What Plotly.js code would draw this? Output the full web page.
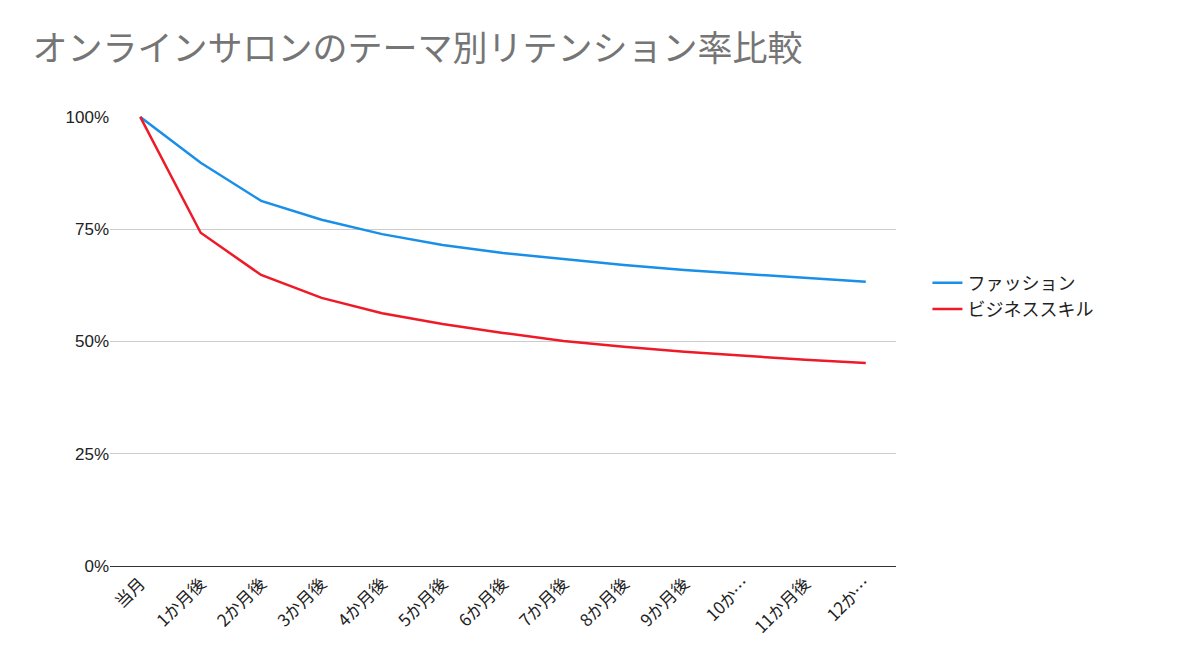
<!DOCTYPE html>
<html>
<head>
<meta charset="utf-8">
<script src="https://cdn.plot.ly/plotly-3.0.1.min.js"></script>
<style>body{margin:0;background:#fff}</style>
</head>
<body>
<div id="chart" style="width:1200px;height:667px"></div>
<script>
// categories (x axis)
const months = ['当月', '1か月後', '2か月後', '3か月後', '4か月後', '5か月後', '6か月後',
  '7か月後', '8か月後', '9か月後', '10か…', '11か月後', '12か…']
// retention, fraction
const fashion = [1.0, 0.898, 0.813, 0.771, 0.739, 0.715, 0.697, 0.684, 0.670, 0.659, 0.650, 0.641, 0.633]
const business = [1.0, 0.742, 0.648, 0.597, 0.563, 0.539, 0.519, 0.501, 0.488, 0.477, 0.468, 0.459, 0.452]

const font = "'Noto Sans CJK JP', 'Noto Sans', sans-serif"

const traces = [
  { x: months, y: fashion, name: 'ファッション', type: 'scatter', mode: 'lines',
    line: { color: '#1a8fe8', width: 2.5 } },
  { x: months, y: business, name: 'ビジネススキル', type: 'scatter', mode: 'lines',
    line: { color: '#ee1a27', width: 2.5 } },
]

const layout = {
  width: 1200, height: 667,
  paper_bgcolor: '#fff', plot_bgcolor: '#fff',
  font: { family: font, size: 17, color: '#222' },
  title: { text: 'オンラインサロンのテーマ別リテンション率比較', x: 0.027, xanchor: 'left', y: 0.945,
    font: { family: font, size: 35, color: '#757575' } },
  margin: { l: 110, r: 304, t: 116, b: 101 },
  xaxis: { showgrid: false, showline: true, linecolor: '#333', tickangle: -45,
    ticks: '', range: [-0.5, 12.5], tickfont: { size: 17 } },
  yaxis: { range: [0, 1.002], tickvals: [0, 0.25, 0.5, 0.75, 1], tickformat: '.0%',
    gridcolor: '#ccc', zeroline: false, ticks: '',
    tickfont: { family: "'Liberation Sans', Arial, sans-serif", size: 17 } },
  legend: { x: 1.04, y: 0.6, yanchor: 'middle', font: { size: 18 }, tracegroupgap: 20,
    itemwidth: 30 },
}

Plotly.newPlot('chart', traces, layout, { displayModeBar: false })
</script>
</body>
</html>
